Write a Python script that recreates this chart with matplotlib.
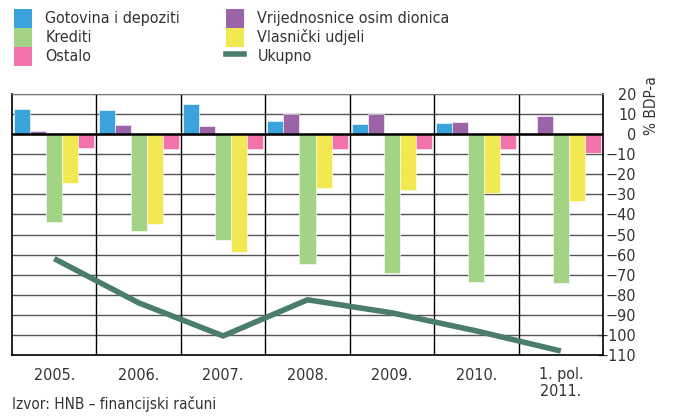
"""Struktura neto financijske imovine (% BDP-a): stupci po instrumentima + linija ukupno."""

import numpy as np
import matplotlib
matplotlib.use("Agg")
import matplotlib.pyplot as plt
from matplotlib.patches import Patch
from matplotlib.lines import Line2D

plt.rcParams["font.family"] = ["DejaVu Sans"]
plt.rcParams["font.stretch"] = "condensed"

# ---------------------------------------------------------------------------
# Data
# ---------------------------------------------------------------------------
periods = ["2005.", "2006.", "2007.", "2008.", "2009.", "2010.", "1. pol.\n2011."]
gotovina = [12.3, 12.0, 14.8, 6.7, 5.2, 5.5, 0.0]
vrijednosnice = [1.5, 4.5, 4.2, 10.2, 10.2, 6.2, 9.2]
krediti = [-44.0, -48.0, -52.5, -64.8, -69.0, -73.5, -74.3]
vlasnicki = [-24.5, -45.0, -58.7, -27.0, -28.0, -29.3, -33.3]
ostalo = [-6.8, -7.3, -7.3, -7.3, -7.2, -7.3, -9.3]
ukupno = [-62.0, -84.0, -100.5, -82.5, -89.0, -98.0, -108.0]

yticks = list(range(20, -111, -10))

series = [
    ("Gotovina i depoziti", gotovina, "#3ba3dc"),
    ("Vrijednosnice osim dionica", vrijednosnice, "#9b64a8"),
    ("Krediti", krediti, "#a3d385"),
    ("Vlasnički udjeli", vlasnicki, "#f2e952"),
    ("Ostalo", ostalo, "#f272ab"),
]
line_color = "#4a7d6a"
text_color = "#333333"

# ---------------------------------------------------------------------------
# Figure
# ---------------------------------------------------------------------------
fig = plt.figure(figsize=(6.73, 4.16), dpi=100)
ax = fig.add_axes([12 / 673, 1 - 355 / 416, (603 - 12) / 673, (355 - 94) / 416])

x = np.arange(len(periods))
width = 0.19
for i, (name, vals, color) in enumerate(series):
    ax.bar(x + (i - 2) * width, vals, width=width, color=color,
           edgecolor="white", linewidth=0.4, zorder=3)

ax.plot(x, ukupno, color=line_color, lw=4, solid_capstyle="butt", zorder=4)

# grid: horizontal every 10, vertical at group boundaries
for y in yticks:
    ax.axhline(y, color="#555555", lw=1.0, zorder=1)
ax.axhline(0, color="black", lw=1.8, zorder=5)
for b in np.arange(0.5, len(periods) - 1, 1.0):
    ax.axvline(b, color="black", lw=1.0, zorder=1)

ax.set_xlim(-0.5, len(periods) - 0.5)
ax.set_ylim(-110, 20)
for side in ["left", "right", "bottom"]:
    ax.spines[side].set_color("black")
    ax.spines[side].set_linewidth(1.2)
ax.spines["top"].set_color("#777777")

ax.yaxis.tick_right()
ax.set_yticks(yticks)
ax.set_yticklabels([str(v).replace("-", "\u2212") for v in yticks])
for lbl in ax.get_yticklabels():
    lbl.set_horizontalalignment("right")
ax.tick_params(axis="y", length=0, pad=24, labelsize=11.5, colors=text_color)
ax.set_xticks(x)
ax.set_xticklabels(periods, linespacing=1.1)
ax.tick_params(axis="x", length=0, pad=9, labelsize=11.5, colors=text_color)

fig.text(652 / 673, 1 - 106 / 416, "% BDP-a", rotation=90, ha="center", va="center",
         fontsize=11, color=text_color)

handles = [Patch(facecolor=c, edgecolor="none") for _, _, c in series]
labels = [n for n, _, _ in series]
order = [0, 2, 4, 1, 3]
handles = [handles[k] for k in order] + [Line2D([], [], color=line_color, lw=4)]
labels = [labels[k] for k in order] + ["Ukupno"]
fig.legend(handles, labels, ncol=2, loc="upper left", bbox_to_anchor=(0.002, 1.01),
           frameon=False, fontsize=11.5, handlelength=1.1, handleheight=1.45,
           handletextpad=0.85, columnspacing=2.9, labelspacing=0.0, borderpad=0.3,
           labelcolor=text_color)

fig.text(12 / 673, 1 - 404 / 416, "Izvor: HNB \u2013 financijski računi", ha="left",
         va="center", fontsize=11, color=text_color)

fig.savefig("out.png", dpi=100)
